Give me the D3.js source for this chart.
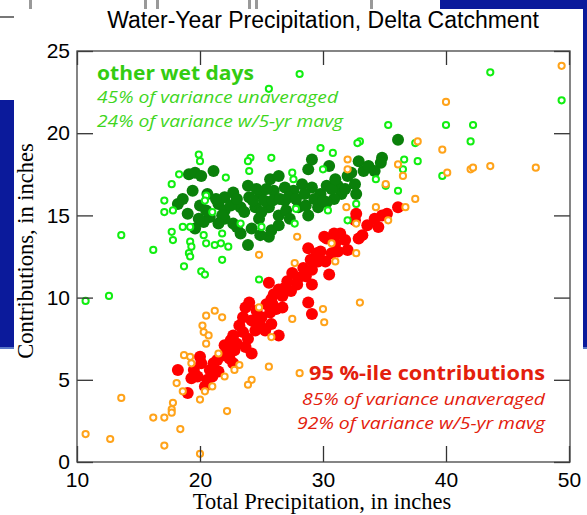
<!DOCTYPE html>
<html>
<head>
<meta charset="utf-8">
<script src="https://cdn.jsdelivr.net/npm/d3@7"></script>
<style>
  body { margin: 0; background: #fff; }
  svg { display: block; }
</style>
</head>
<body>
<svg id="chart" width="587" height="515"></svg>
<script>
// [precip, contribution] in inches
var wetDaysRaw = [
  [28.1,23.6],[25.6,22.7],[29.8,19.1],[19.9,18.7],[20.0,18.3],[24.1,18.5],[23.9,18.3],[25.8,18.5],
  [24.0,17.7],[18.3,17.5],[22.1,17.3],[27.5,17.6],[27.6,17.2],[30.0,17.8],[17.7,16.9],[20.5,16.2],
  [20.4,15.9],[17.1,15.9],[17.1,15.2],[17.8,15.3],[21.0,15.2],[27.8,15.4],[23.3,14.5],[18.6,14.3],
  [19.2,14.3],[25.0,14.3],[17.7,14.0],[27.7,14.5],[13.6,13.8],[20.3,13.8],[21.8,13.9],[17.8,13.5],
  [19.2,13.4],[20.5,13.3],[21.2,13.2],[21.7,13.3],[22.3,13.1],[19.3,13.1],[16.2,12.9],[19.1,12.7],
  [18.7,11.9],[19.2,12.5],[21.8,12.3],[20.1,11.6],[20.4,11.4],[24.8,11.1],[12.6,10.1],[10.7,9.8],
  [43.6,23.7],[49.4,22.0],[40.0,20.5],[42.2,20.5],[35.3,20.5],[42.0,19.5],[37.5,19.4],[33.0,19.5],
  [32.8,19.4],[30.8,18.8],[36.6,18.4],[37.7,18.3],[36.5,17.8],[34.3,17.2],[39.7,17.4],[35.1,16.8],
  [36.1,16.5],[30.4,15.3],[32.0,14.7],[32.7,15.7]
];
var wetDaysMavg = [
  [29.1,18.4],[28.8,17.8],[21.1,17.7],[19.1,17.5],[19.6,17.6],[20.1,17.4],[19.4,16.5],[18.2,15.7],
  [20.0,15.6],[21.5,15.7],[22.0,16.1],[22.7,16.4],[23.9,16.8],[24.0,16.1],[24.9,16.3],[25.7,17.2],
  [26.4,17.4],[26.0,16.5],[26.9,15.9],[27.6,16.5],[28.3,16.9],[29.1,16.7],[29.8,16.3],[28.8,15.0],
  [29.6,15.5],[28.0,15.5],[25.6,15.5],[26.4,15.0],[24.5,15.5],[23.3,15.5],[22.0,15.3],[20.8,14.9],
  [20.3,14.6],[19.6,14.2],[19.9,14.8],[22.7,14.5],[22.0,14.8],[23.3,13.9],[23.9,13.2],[25.6,13.7],
  [25.8,14.1],[26.4,14.4],[24.8,14.8],[25.2,15.9],[26.9,16.7],[36.1,19.6],[34.8,18.5],[34.7,18.2],
  [34.2,17.7],[32.9,18.3],[33.3,17.7],[30.5,18.0],[32.0,17.4],[32.6,16.9],[32.7,16.3],[31.2,16.8],
  [31.5,16.3],[30.9,16.0],[30.3,15.8],[30.3,16.8],
  [20.6,16.3],[21.3,16.0],[21.8,15.0],[22.5,15.6],[23.0,16.0],[23.6,15.2],[24.3,15.9],[24.6,16.6],
  [25.0,15.2],[25.4,16.6],[25.9,15.9],[26.5,16.0],[27.2,16.1],[27.0,15.3],[27.8,16.0],[28.5,16.3],
  [28.6,15.6],[29.3,16.0],[30.0,15.9],[30.7,16.6],[31.0,17.2],[31.8,16.6],[32.3,17.6],[33.7,18.0],
  [21.5,14.5],[23.0,14.3],[24.2,14.2],[24.9,13.8],[19.0,15.1],[18.6,16.0],[20.5,15.3],[27.3,14.8]
];
var pctRaw = [
  [49.4,24.1],[40.0,21.9],[39.7,19.0],[37.7,19.5],[32.0,18.4],[32.0,17.8],[36.1,18.1],[36.5,17.4],
  [40.1,17.6],[42.0,17.8],[42.2,17.9],[43.6,18.0],[47.3,17.9],[35.1,16.9],[37.5,16.0],[34.3,15.5],
  [36.7,15.5],[35.3,14.7],[31.9,15.5],[32.7,14.5],[30.7,13.3],[32.7,12.7],[27.9,13.7],[24.8,12.6],
  [27.7,12.1],[31.0,12.2],[33.0,9.7],[24.8,9.4],[21.2,9.2],[20.5,8.9],[21.8,8.8],[20.2,8.3],
  [20.3,7.9],[20.7,7.7],[20.5,7.2],[27.5,8.7],[30.0,9.3],[30.1,8.5],[25.8,7.6],[21.5,6.6],
  [18.7,6.5],[19.2,6.4],[19.3,6.0],[23.2,5.9],[22.8,5.6],[22.0,5.2],[25.6,5.8],[28.1,5.4],
  [18.1,4.8],[24.2,5.0],[23.9,4.7],[21.0,4.6],[18.6,4.3],[20.4,4.3],[13.6,3.9],[20.0,3.8],
  [17.8,3.6],[17.7,3.2],[17.7,3.0],[22.2,3.1],[16.2,2.7],[17.1,2.7],[18.4,2.0],[10.7,1.7],
  [12.7,1.4],[17.1,1.0],[20.0,0.5]
];
var pctMavg = [
  [36.1,15.5],[34.8,15.0],[34.2,14.8],[32.7,15.1],[32.6,14.7],[33.2,13.8],[32.9,13.6],[31.4,13.9],
  [30.9,13.9],[30.3,13.6],[32.0,12.9],[31.2,12.8],[30.7,12.7],[30.1,13.7],[28.8,13.0],[29.5,12.7],
  [30.5,11.4],[29.6,12.2],[29.1,11.7],[27.5,11.5],[28.6,11.3],[27.9,10.8],[29.1,10.8],[25.6,10.9],
  [26.4,10.5],[27.1,11.0],[25.8,9.9],[26.7,10.1],[25.4,9.6],[26.7,9.4],[28.8,9.7],[29.1,9.0],
  [24.0,9.7],[23.7,9.4],[25.7,9.1],[26.2,9.3],[23.5,8.8],[23.2,8.3],[24.9,8.3],[25.8,8.4],
  [24.5,8.0],[25.3,8.0],[26.4,7.7],[22.7,7.7],[23.9,7.5],[23.7,7.0],[24.2,6.6],[22.0,7.1],
  [22.8,6.8],[21.9,6.5],[22.4,6.3],[22.7,6.0],[20.0,6.4],[20.1,6.0],[21.1,6.0],[21.5,5.5],
  [20.8,5.6],[19.5,5.6],[18.2,5.6],[19.3,5.1],[20.4,4.6],[19.0,4.2],
  [19.8,5.2],[20.6,5.0],[21.4,6.2],[22.2,6.9],[23.0,7.2],[23.5,7.9],[24.2,8.6],[24.6,9.2],
  [25.0,8.8],[25.9,9.6],[26.0,10.2],[26.9,10.6],[27.4,10.4],[28.0,11.2],[28.4,11.8],[29.0,12.3],
  [29.8,12.8],[30.2,12.2],[31.0,13.3],[31.8,13.5],[33.6,14.4],[35.2,15.1],[34.5,14.3],[21.0,5.2],
  [22.5,7.4]
];

var xTicks = [10, 20, 30, 40, 50];
var yTicks = [0, 5, 10, 15, 20, 25];

var title = "Water-Year Precipitation, Delta Catchment";
var xLabel = "Total Precipitation, in inches";
var yLabel = "Contributions, in inches";
var wetLegend = ["other wet days", "45% of variance unaveraged", "24% of variance w/5-yr mavg"];
var pctLegend = ["95 %-ile contributions", "85% of variance unaveraged", "92% of variance w/5-yr mavg"];

var svg = d3.select("#chart"),
    margins = {"left": 77, "right": 17, "top": 51, "bottom": 53},
    width = 587, height = 515;

// bits of the slide behind the chart
svg.append("rect").attr("x", 0).attr("y", 100).attr("width", 14).attr("height", 249).attr("fill", "#0b1a9b");
svg.append("rect").attr("x", 0).attr("y", 347).attr("width", 14).attr("height", 2).attr("fill", "#5a78c8");
svg.append("rect").attr("x", 440).attr("y", 0).attr("width", 147).attr("height", 9).attr("fill", "#0b1a9b");
svg.append("rect").attr("x", 583).attr("y", 9).attr("width", 4).attr("height", 340).attr("fill", "#0b1a9b");
svg.append("rect").attr("x", 583).attr("y", 347).attr("width", 4).attr("height", 2).attr("fill", "#5a78c8");
svg.append("rect").attr("x", 0).attr("y", 16).attr("width", 14).attr("height", 2).attr("fill", "#777");
[29, 144, 156, 248, 255, 370].forEach(function(xx) {
    svg.append("rect").attr("x", xx).attr("y", 0).attr("width", 3).attr("height", 9).attr("fill", "#999");
});

var x = d3.scaleLinear().domain([10, 50]).range([margins.left, width - margins.right - 1]),
    y = d3.scaleLinear().domain([0, 25]).range([height - margins.bottom, margins.top]);

// points: filled first, hollow ones on top
var plot = svg.append("g");
plot.selectAll(".wetm").data(wetDaysMavg).enter().append("circle")
    .attr("cx", d => x(d[0])).attr("cy", d => y(d[1])).attr("r", 6).attr("fill", "#0a800a");
plot.selectAll(".pctm").data(pctMavg).enter().append("circle")
    .attr("cx", d => x(d[0])).attr("cy", d => y(d[1])).attr("r", 6).attr("fill", "#ff0000");
plot.selectAll(".wetr").data(wetDaysRaw).enter().append("circle")
    .attr("cx", d => x(d[0])).attr("cy", d => y(d[1])).attr("r", 3.1)
    .attr("fill", "#fff").attr("stroke", "#11ee11").attr("stroke-width", 2);
plot.selectAll(".pctr").data(pctRaw).enter().append("circle")
    .attr("cx", d => x(d[0])).attr("cy", d => y(d[1])).attr("r", 3.1)
    .attr("fill", "#fff").attr("stroke", "#ffa31a").attr("stroke-width", 2);

// frame + inward ticks on all four sides
var axFont = "'Liberation Sans', Arial, sans-serif";
function styleAxis(g) {
    g.select(".domain").remove();
    g.selectAll("line").attr("stroke", "#333").attr("stroke-width", 1.3);
    g.selectAll("text").attr("font-family", axFont).attr("font-size", 21).attr("fill", "#000");
}
svg.append("g").attr("transform", "translate(0," + y(0) + ")")
    .call(d3.axisBottom(x).tickValues(xTicks).tickSize(-16).tickPadding(10).tickFormat(d3.format("d")))
    .call(styleAxis);
svg.append("g").attr("transform", "translate(0," + y(25) + ")")
    .call(d3.axisTop(x).tickValues(xTicks).tickSize(-14).tickFormat(""))
    .call(styleAxis);
svg.append("g").attr("transform", "translate(" + x(10) + ",0)")
    .call(d3.axisLeft(y).tickValues(yTicks).tickSize(-16).tickPadding(7).tickFormat(d3.format("d")))
    .call(styleAxis);
svg.append("g").attr("transform", "translate(" + (x(50) + 1) + ",0)")
    .call(d3.axisRight(y).tickValues(yTicks).tickSize(-16).tickFormat(""))
    .call(styleAxis);

svg.append("rect").attr("x", x(10)).attr("y", y(25))
    .attr("width", x(50) + 1 - x(10)).attr("height", y(0) - y(25))
    .attr("fill", "none").attr("stroke", "#444").attr("stroke-width", 1.3);

// titles
svg.append("text").attr("x", 323).attr("y", 28).attr("text-anchor", "middle")
    .attr("font-family", axFont).attr("font-size", 23).text(title);
svg.append("text").attr("x", 322).attr("y", 509).attr("text-anchor", "middle")
    .attr("font-family", "'Liberation Serif', 'Times New Roman', serif").attr("font-size", 22.5).text(xLabel);
svg.append("text").attr("transform", "translate(33,251) rotate(-90)").attr("text-anchor", "middle")
    .attr("font-family", "'Liberation Serif', 'Times New Roman', serif").attr("font-size", 22.5).text(yLabel);

// annotations
var legFont = "'Open Sans', 'Noto Sans', sans-serif";
var lg = svg.append("g").attr("font-family", legFont);
lg.append("text").attr("x", 97).attr("y", 80).attr("font-weight", "bold").attr("font-size", 19)
    .attr("fill", "#33cc11").attr("textLength", 157).attr("lengthAdjust", "spacingAndGlyphs").text(wetLegend[0]);
lg.append("text").attr("x", 97).attr("y", 103).attr("font-style", "italic").attr("font-size", 16)
    .attr("fill", "#3fd61e").attr("textLength", 241).attr("lengthAdjust", "spacingAndGlyphs").text(wetLegend[1]);
lg.append("text").attr("x", 97).attr("y", 127).attr("font-style", "italic").attr("font-size", 16)
    .attr("fill", "#3fd61e").attr("textLength", 246).attr("lengthAdjust", "spacingAndGlyphs").text(wetLegend[2]);

lg.append("text").attr("x", 309).attr("y", 380).attr("font-weight", "bold").attr("font-size", 19)
    .attr("fill", "#e3200c").attr("textLength", 236).attr("lengthAdjust", "spacingAndGlyphs").text(pctLegend[0]);
lg.append("text").attr("x", 302).attr("y", 405).attr("font-style", "italic").attr("font-size", 16)
    .attr("fill", "#e3200c").attr("textLength", 243).attr("lengthAdjust", "spacingAndGlyphs").text(pctLegend[1]);
lg.append("text").attr("x", 297).attr("y", 429).attr("font-style", "italic").attr("font-size", 16)
    .attr("fill", "#e3200c").attr("textLength", 248).attr("lengthAdjust", "spacingAndGlyphs").text(pctLegend[2]);
</script>
</body>
</html>
